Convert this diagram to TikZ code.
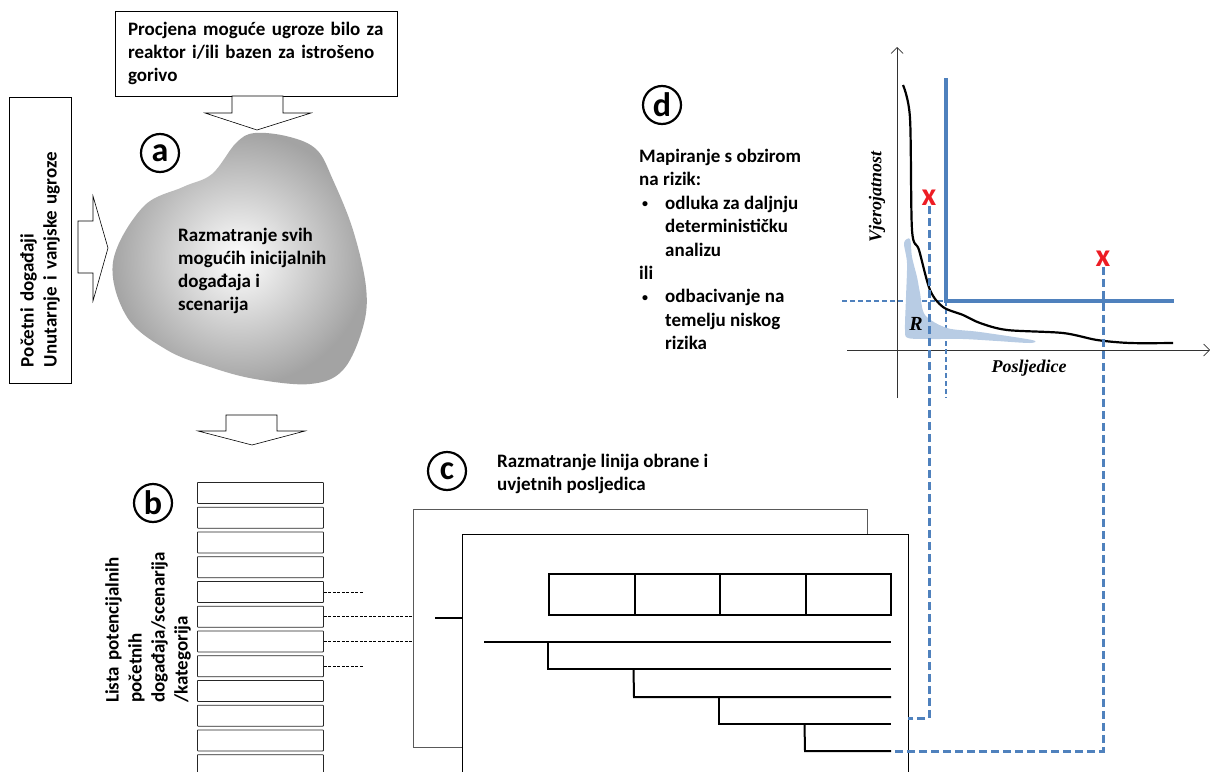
\documentclass[tikz,border=0pt]{standalone}
\usepackage{fontspec}
\setmainfont{Carlito}
\newfontfamily\graphfont{Liberation Serif}
\usetikzlibrary{arrows.meta}

\definecolor{riskblue}{RGB}{79,129,189}
\definecolor{regionblue}{RGB}{184,204,228}
\definecolor{xred}{RGB}{237,28,36}

\newcommand{\smallbullet}{\makebox[26pt][l]{\hspace{3pt}\raisebox{1.5pt}{\fontsize{12}{12}\selectfont•}}}

\tikzset{
  txt/.style={font=\fontsize{19}{23}\selectfont\bfseries, align=left, inner sep=0pt},
  lbl/.style={circle, draw=black, line width=2.2pt, minimum size=38pt, inner sep=0pt,
    font=\fontsize{34}{34}\selectfont\bfseries},
  listbox/.style={draw=black!85, line width=0.8pt, minimum width=126pt, minimum height=21pt,
    inner sep=0pt, rounded corners=0.6pt},
  cell/.style={draw=black, line width=2pt, minimum width=85.5pt, minimum height=41pt, inner sep=0pt},
  bigarrow/.style={draw=black, fill=white, line width=0.6pt},
  stair/.style={line width=2pt},
  link/.style={line width=0.7pt, dash pattern=on 3pt off 1.5pt},
  bluelink/.style={draw=riskblue, line width=3pt, dash pattern=on 8pt off 4pt},
  axlabel/.style={font=\fontsize{18}{18}\selectfont\graphfont\bfseries\itshape, inner sep=0pt},
  xmark/.style={text=xred, font=\fontsize{32}{32}\selectfont\bfseries, inner sep=0pt},
}

\begin{document}
\begin{tikzpicture}[x=1pt,y=-1pt]
  \useasboundingbox (0,0) rectangle (1210,771);
  \clip (0,0) rectangle (1210,771);

  % a: ugroze i inicijalni dogadaji
  \node[txt, draw, line width=0.8pt, minimum width=282pt, minimum height=85pt, text width=256pt,
    inner xsep=13pt] (procjena) at (256,53.5)
    {Procjena moguće ugroze bilo za\\ reaktor i/ili bazen za istrošeno\\ gorivo};
  \node[txt, draw, line width=0.8pt, rotate=90, minimum width=286pt, minimum height=62pt,
    text width=254pt, inner xsep=16pt] (pocetni) at (40,240)
    {Početni događaji\\ Unutarnje i vanjske ugroze};

  \draw[bigarrow] (232,96) -- (283,96) -- (283,113) -- (311,113) -- (257,130) -- (205,113)
    -- (232,113) -- cycle;
  \draw[bigarrow] (78,221) -- (93,221) -- (93,196) -- (108,248) -- (93,301) -- (93,273)
    -- (78,273) -- cycle;

  \shade[inner color=white, outer color=black!36] plot[smooth cycle, tension=0.6] coordinates
    {(113,262) (127,317) (167,350) (210,367) (255,379) (310,384) (343,370) (363,327)
     (366,287) (353,230) (333,180) (317,150) (290,137) (255,133) (236,143) (212,174)
     (183,187) (143,207)};
  \node[txt, anchor=west] (svi) at (178,271)
    {Razmatranje svih\\ mogućih inicijalnih\\ događaja i\\ scenarija};
  \node[lbl] (ca) at (160,153) {a};

  % b: lista dogadaja
  \draw[bigarrow] (226,415) -- (277,415) -- (277,431) -- (305,431) -- (252,445) -- (198,431)
    -- (226,431) -- cycle;
  \node[lbl] (cb) at (153,503) {b};
  \node[txt, rotate=90, anchor=west, text width=170pt] (lista) at (148,703)
    {Lista potencijalnih\\ početnih\\ događaja/scenarija\\ /kategorija};
  \foreach \i in {1,...,12}
    \node[listbox, anchor=north west] (l\i) at (197,{482+(\i-1)*24.75}) {};

  \draw[link] (l5.east) -- +(40,0);
  \draw[link] (l6.east) -- +(107,0);
  \draw[link] (l7.east) -- +(154,0);
  \draw[link] (l8.east) -- +(40,0);

  % c: linije obrane
  \node[lbl] (cc) at (447,471) {c};
  \node[txt, anchor=west] (obrana) at (497,474)
    {Razmatranje linija obrane i\\ uvjetnih posljedica};
  \draw[draw=black!65, line width=0.9pt, fill=white] (413,509) rectangle (867,747);
  \draw[draw=black, line width=0.9pt, fill=white] (462,534) rectangle (908,790);
  \draw[line width=1.6pt] (435,618) -- (462,618);
  \foreach \i in {1,...,4}
    \node[cell, anchor=north west] (t\i) at ({548+(\i-1)*85.5},573) {};
  \draw[stair] (484,641.5) -- (891,641.5);
  \draw[stair] (t1.south west |- 0,641.5) -- (548,669) -- (891,669);
  \draw[stair] (t2.south west |- 0,669) -- (634,697) -- (891,697);
  \draw[stair] (t3.south west |- 0,697) -- (719,724) -- (891,724);
  \draw[stair] (t4.south west |- 0,724) -- (805,751) -- (891,751);

  % d: mapiranje rizika
  \node[lbl] (cd) at (662,105) {d};
  \node[txt, anchor=north west, font=\fontsize{19}{23.4}\selectfont\bfseries] (mapa) at (639,149)
    {Mapiranje s obzirom\\ na rizik:\\
     \smallbullet odluka za daljnju\\
     \hspace{26pt}determinističku\\
     \hspace{26pt}analizu\\
     ili\\
     \smallbullet odbacivanje na\\
     \hspace{26pt}temelju niskog\\
     \hspace{26pt}rizika};

  \draw[black!80, line width=0.7pt, -{Straight Barb[length=6pt]}] (897,398) -- (897,47);
  \draw[black!80, line width=0.7pt, -{Straight Barb[length=6pt]}] (847,350) -- (1210,350);
  \draw[riskblue, line width=1.1pt, dash pattern=on 5pt off 3pt] (842,301) -- (946,301) -- (946,398);
  \fill[regionblue] plot[smooth cycle, tension=0.5] coordinates
    {(904,243) (910,239) (912,257) (917,277) (920,293) (925,315) (947,328) (980,332)
     (1032,340) (1030,343) (997,341) (963,339) (930,339) (908,338) (905,330) (906,297)
     (907,263)};
  \node[axlabel, font=\fontsize{20}{20}\selectfont\graphfont\bfseries\itshape] (rlab) at (916,324) {R};
  \draw[riskblue, line width=4pt] (946,78) -- (946,301) -- (1174,301);
  \draw[line width=2.2pt, line join=round] plot[smooth, tension=0.5] coordinates
    {(903,85) (910,118) (912,230) (919,250) (930,290) (943,307) (963,315) (980,323)
     (1007,330) (1063,333) (1097,340) (1130,343) (1173,343)};
  \node[axlabel, rotate=90] (vjer) at (877,197) {Vjerojatnost};
  \node[axlabel] (posl) at (1029,368) {Posljedice};

  \node[xmark] (xa) at (929,198) {x};
  \node[xmark] (xb) at (1103,259) {x};
  \coordinate (ea) at (908,718);
  \coordinate (eb) at (892,751);
  \draw[bluelink] (xa.south) |- (ea);
  \draw[bluelink] (xb.south) |- (eb);
\end{tikzpicture}
\end{document}
